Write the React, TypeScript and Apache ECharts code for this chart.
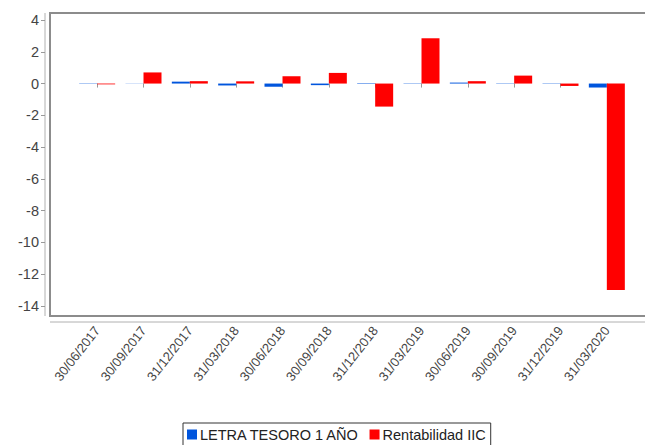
import React, { useEffect, useRef } from "react";
import * as echarts from "echarts";

const categories = [
  "30/06/2017", "30/09/2017", "31/12/2017", "31/03/2018", "30/06/2018", "30/09/2018",
  "31/12/2018", "31/03/2019", "30/06/2019", "30/09/2019", "31/12/2019", "31/03/2020",
];
const letraTesoro = [0.02, 0.01, 0.12, -0.12, -0.2, -0.1, 0.03, 0.02, 0.06, 0.02, 0.02, -0.25];
const rentabilidad = [-0.05, 0.7, 0.15, 0.14, 0.46, 0.67, -1.45, 2.85, 0.15, 0.5, -0.15, -13.0];
const seriesNames = ["LETRA TESORO 1 AÑO", "Rentabilidad IIC"];
const yMin = -14;
const yMax = 4;
const yStep = 2;

export default function App() {
  const ref = useRef<HTMLDivElement>(null);
  useEffect(() => {
    if (!ref.current) return;
    const chart = echarts.init(ref.current, null, { renderer: "svg" });
    const font = "Liberation Sans, Arial, sans-serif";
    chart.setOption({
      animation: false,
      backgroundColor: "#ffffff",
      textStyle: { fontFamily: font },
      grid: { left: 74, top: 20, width: 556, height: 286, containLabel: false },
      legend: {
        data: seriesNames,
        left: 183,
        top: 423,
        orient: "horizontal",
        borderColor: "#333",
        borderWidth: 1,
        padding: [4, 5, 8, 4],
        itemWidth: 10,
        itemHeight: 10,
        itemGap: 10,
        icon: "rect",
        textStyle: { fontSize: 14.5, color: "#222", fontFamily: font, padding: [0, 0, 0, -2] },
      },
      graphic: [
        {
          type: "rect",
          shape: { x: 50, y: 13, width: 620, height: 303 },
          style: { fill: "none", stroke: "#8c8c8c", lineWidth: 2 },
          silent: true,
        },
        {
          type: "line",
          shape: { x1: 45, y1: 13, x2: 45, y2: 316 },
          style: { stroke: "#b0b0b0", lineWidth: 1 },
          silent: true,
        },
        {
          type: "line",
          shape: { x1: 50, y1: 322, x2: 645, y2: 322 },
          style: { stroke: "#b0b0b0", lineWidth: 1 },
          silent: true,
        },
      ],
      xAxis: {
        type: "category",
        data: categories,
        offset: 16,
        boundaryGap: true,
        axisLine: { show: false },
        axisTick: { show: true, alignWithLabel: true, length: 4, lineStyle: { color: "#999" } },
        axisLabel: { interval: 0, rotate: 52, fontSize: 13, color: "#444", margin: 6, fontFamily: font },
        splitLine: { show: false },
      },
      yAxis: {
        type: "value",
        min: yMin,
        max: yMax,
        interval: yStep,
        offset: 29,
        axisLine: { show: false },
        axisTick: { show: true, length: 4, lineStyle: { color: "#999" } },
        axisLabel: { fontSize: 14.5, color: "#444", margin: 6, fontFamily: font },
        splitLine: { show: false },
      },
      series: [
        {
          name: seriesNames[0],
          type: "bar",
          data: letraTesoro,
          barWidth: 18,
          barGap: "0%",
          itemStyle: { color: "#0055dd" },
        },
        {
          name: seriesNames[1],
          type: "bar",
          data: rentabilidad,
          barWidth: 18,
          barGap: "0%",
          itemStyle: { color: "#ff0000" },
        },
      ],
    });
    return () => chart.dispose();
  }, []);
  return (
    <div
      ref={ref}
      style={{ position: "absolute", left: 0, top: 0, width: 645, height: 445 }}
    />
  );
}
